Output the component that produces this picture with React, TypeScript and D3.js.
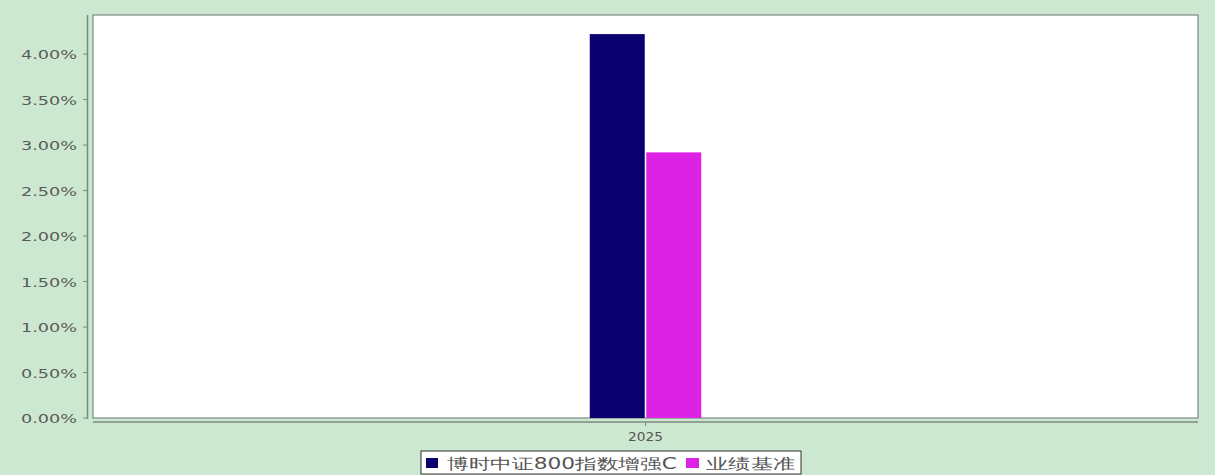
import React from "react";
import * as d3 from "d3";

const categories = ["2025"];
const seriesNames = ["博时中证800指数增强C", "业绩基准"];
const fundValues = [4.22];
const benchValues = [2.92];
const yTicks = [0, 0.5, 1, 1.5, 2, 2.5, 3, 3.5, 4];
const colors = ["#0b0070", "#dd22e6"];

export default function App() {
  const W = 1215, H = 475;
  const plotL = 93, plotR = 1198, plotT = 15, plotB = 418;
  const y = d3.scaleLinear().domain([0, 4.43]).range([plotB, plotT]);
  const x = d3.scaleBand().domain(categories).range([plotL, plotR]);
  const barW = 55;
  const gap = 1.5;
  const series = [fundValues, benchValues];
  const font = "'DejaVu Sans', Verdana, sans-serif";
  return (
    <svg width={W} height={H} style={{ position: "absolute", left: 0, top: 0 }}>
      <rect x={0} y={0} width={W} height={H} fill="#cde8d0" />
      <rect x={plotL} y={plotT} width={plotR - plotL} height={plotB - plotT} fill="#ffffff" stroke="#7a8a80" strokeWidth={1.2} />
      {/* y axis */}
      <line x1={87.5} x2={87.5} y1={plotT} y2={plotB + 1} stroke="#7a8a80" strokeWidth={1.5} />
      {yTicks.map((t) => (
        <g key={t}>
          <line x1={83} x2={87.5} y1={y(t)} y2={y(t)} stroke="#7a8a80" />
          <text x={21} y={y(t) + 5} textLength={56} lengthAdjust="spacingAndGlyphs" fontFamily={font} fontSize={13} fill="#5a5a5a">
            {t.toFixed(2) + "%"}
          </text>
        </g>
      ))}
      {/* x axis */}
      <line x1={plotL} x2={plotR} y1={422} y2={422} stroke="#7a8a80" strokeWidth={1.5} />
      {categories.map((c) => {
        const cx = (x(c) as number) + x.bandwidth() / 2;
        return (
          <g key={c}>
            <line x1={cx} x2={cx} y1={422} y2={426} stroke="#7a8a80" />
            <text x={cx - 17.5} y={441} textLength={35} lengthAdjust="spacingAndGlyphs" fontFamily={font} fontSize={12} fill="#555">{c}</text>
            {series.map((vals, si) => {
              const v = vals[categories.indexOf(c)];
              const bx = si === 0 ? cx - gap / 2 - barW : cx + gap / 2;
              return <rect key={si} x={bx} y={y(v)} width={barW} height={plotB - y(v)} fill={colors[si]} />;
            })}
          </g>
        );
      })}
      {/* legend */}
      <rect x={421} y={451} width={380} height={23} fill="#ffffff" stroke="#333" strokeWidth={1} />
      <rect x={426} y={458} width={12} height={10} fill={colors[0]} />
      <text x={447} y={468.5} textLength={230} lengthAdjust="spacingAndGlyphs" fontFamily={font} fontSize={15} fill="#555">{seriesNames[0]}</text>
      <rect x={686} y={458} width={13} height={10} fill={colors[1]} />
      <text x={706} y={468.5} textLength={89} lengthAdjust="spacingAndGlyphs" fontFamily={font} fontSize={15} fill="#555">{seriesNames[1]}</text>
    </svg>
  );
}
